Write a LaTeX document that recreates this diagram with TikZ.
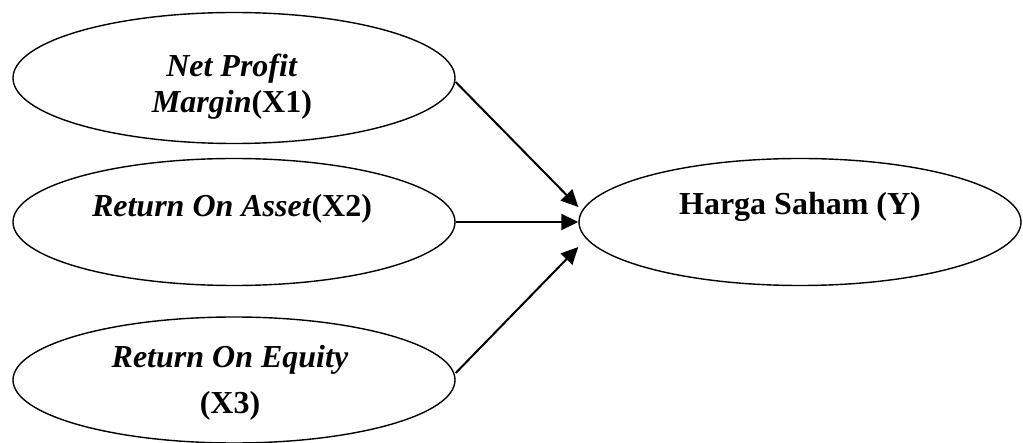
\documentclass[tikz,border=0pt]{standalone}
\usepackage{fontspec}
\setmainfont{Liberation Serif}
\usetikzlibrary{positioning, shapes.geometric, arrows.meta}

\begin{document}
\begin{tikzpicture}[
  x=0.5pt, y=-0.5pt,
  variabel/.style={draw=black, ellipse, line width=0.7pt, inner sep=0pt,
                   minimum width=221pt, minimum height=64pt},
  labelvar/.style={anchor=base, align=center, inner sep=0pt,
                   font=\fontsize{16}{18}\selectfont\bfseries},
  pengaruh/.style={-{Triangle[length=8.5pt, width=8pt]}, line width=1pt}
]
  \useasboundingbox (0,0) rectangle (1023,443);

  % variabel independen
  \node[variabel, minimum height=65.5pt] (npm) at (234,78) {};
  \node[variabel, minimum height=63.5pt] (roa) at (234,222) {};
  \node[variabel, minimum height=63pt] (roe) at (234,380) {};
  % variabel dependen
  \node[variabel, minimum height=63.5pt] (hs) at (800,222) {};

  \node[labelvar] (npmtext) at (232,113) {\textit{Net Profit}\\\textit{Margin}(X1)};
  \node[labelvar] (roatext) at (232,217) {\textit{Return On Asset}(X2)};
  \node[labelvar] (roetext) at (230,414) {\textit{Return On Equity}\\[5.5pt](X3)};
  \node[labelvar] (hstext) at (800,215) {Harga Saham (Y)};

  \draw[pengaruh] ([yshift=-2pt]npm.east) -- ([yshift=7.5pt]hs.west);
  \draw[pengaruh] (roa.east) -- (hs.west);
  \draw[pengaruh] ([yshift=3.5pt]roe.east) -- ([yshift=-12.5pt]hs.west);
\end{tikzpicture}
\end{document}
